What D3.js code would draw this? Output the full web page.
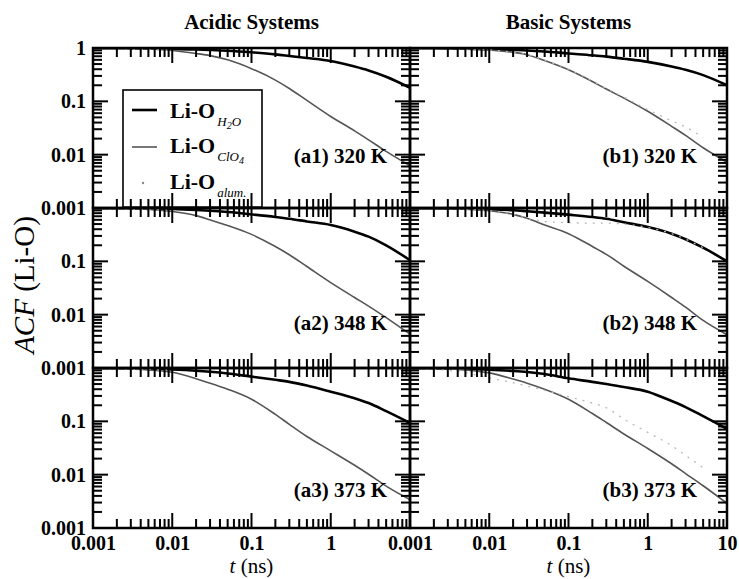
<!DOCTYPE html>
<html>
<head>
<meta charset="utf-8">
<script src="https://cdn.jsdelivr.net/npm/d3@7/dist/d3.min.js"></script>
<style>
  html, body { margin: 0; padding: 0; background: #fff; }
  svg { display: block; }
  text { font-family: "Liberation Serif", "Times New Roman", serif; }
</style>
</head>
<body>
<svg id="chart" width="739" height="579" xmlns="http://www.w3.org/2000/svg"></svg>
<script>
// Sampling times (ns) shared by every series
const T = [0.001, 0.002, 0.005, 0.01, 0.02, 0.03, 0.05, 0.1, 0.2, 0.3, 0.5, 1, 2, 3, 5, 10];

// Acidic systems
const a1_H2O  = [0.995, 0.99, 0.98, 0.96, 0.94, 0.92, 0.89, 0.83, 0.76, 0.71, 0.65, 0.57, 0.45, 0.38, 0.29, 0.18];
const a1_ClO4 = [1.0, 0.99, 0.96, 0.9, 0.79, 0.72, 0.6, 0.41, 0.25, 0.174, 0.104, 0.052, 0.028, 0.019, 0.0115, 0.0062];
const a1_alum = [0.99, 0.97, 0.94, 0.9, null, null, null, null, null, null, null, null, null, null, null, null];

const a2_H2O  = [0.995, 0.99, 0.98, 0.96, 0.92, 0.89, 0.84, 0.76, 0.68, 0.63, 0.56, 0.48, 0.36, 0.29, 0.2, 0.105];
const a2_ClO4 = [1.0, 0.99, 0.94, 0.86, 0.72, 0.6, 0.47, 0.32, 0.19, 0.133, 0.08, 0.04, 0.021, 0.0145, 0.0088, 0.0043];
const a2_alum = [0.99, 0.97, 0.94, 0.9, null, null, null, null, null, null, null, null, null, null, null, null];

const a3_H2O  = [0.995, 0.99, 0.97, 0.94, 0.89, 0.85, 0.79, 0.69, 0.6, 0.55, 0.47, 0.36, 0.27, 0.22, 0.155, 0.093];
const a3_ClO4 = [1.0, 0.98, 0.92, 0.83, 0.63, 0.52, 0.4, 0.26, 0.135, 0.088, 0.052, 0.028, 0.015, 0.0102, 0.0061, 0.0034];
const a3_alum = [0.99, 0.97, 0.94, 0.9, null, null, null, null, null, null, null, null, null, null, null, null];

// Basic systems
const b1_H2O  = [0.995, 0.99, 0.97, 0.95, 0.92, 0.9, 0.86, 0.79, 0.73, 0.69, 0.63, 0.55, 0.45, 0.39, 0.31, 0.2];
const b1_ClO4 = [1.0, 0.99, 0.96, 0.92, 0.83, 0.75, 0.58, 0.39, 0.235, 0.17, 0.115, 0.065, 0.034, 0.023, 0.0135, 0.0072];
const b1_alum = [1.0, 0.99, 0.96, 0.92, 0.83, 0.75, 0.59, 0.40, 0.24, 0.175, 0.12, 0.07, 0.043, 0.033, 0.021, null];

const b2_H2O  = [0.995, 0.99, 0.97, 0.95, 0.91, 0.87, 0.82, 0.75, 0.68, 0.63, 0.54, 0.44, 0.33, 0.26, 0.18, 0.1];
const b2_ClO4 = [1.0, 0.99, 0.95, 0.89, 0.76, 0.64, 0.48, 0.33, 0.19, 0.135, 0.081, 0.042, 0.021, 0.0138, 0.0078, 0.0042];
const b2_alum = [1.0, 0.99, 0.95, 0.89, 0.76, 0.64, 0.56, 0.53, 0.52, 0.52, 0.5, 0.43, 0.33, 0.26, 0.18, null];

const b3_H2O  = [0.995, 0.99, 0.96, 0.93, 0.88, 0.84, 0.77, 0.64, 0.55, 0.5, 0.44, 0.36, 0.24, 0.185, 0.125, 0.072];
const b3_ClO4 = [1.0, 0.98, 0.92, 0.81, 0.62, 0.52, 0.4, 0.26, 0.14, 0.095, 0.058, 0.031, 0.016, 0.0105, 0.0062, 0.0029];
const b3_alum = [1.0, 0.95, 0.82, 0.65, 0.53, 0.46, 0.38, 0.29, 0.22, 0.18, 0.11, 0.062, 0.035, 0.023, 0.0135, null];

// Axis ticks and labels
const xMajor = [0.001, 0.01, 0.1, 1, 10];
const yMajor = [0.001, 0.01, 0.1, 1];
const xLabelsLeft  = ["0.001", "0.01", "0.1", "1"];
const xLabelsRight = ["0.001", "0.01", "0.1", "1", "10"];
const yLabelsTop   = ["0.001", "0.01", "0.1", "1"];
const yLabelsLower = ["0.001", "0.01", "0.1"];
const columnTitles = ["Acidic Systems", "Basic Systems"];
const panelLabels  = ["(a1) 320 K", "(a2) 348 K", "(a3) 373 K", "(b1) 320 K", "(b2) 348 K", "(b3) 373 K"];

const panels = [
  { col: 0, row: 0, h2o: a1_H2O, clo4: a1_ClO4, alum: a1_alum, label: panelLabels[0] },
  { col: 0, row: 1, h2o: a2_H2O, clo4: a2_ClO4, alum: a2_alum, label: panelLabels[1] },
  { col: 0, row: 2, h2o: a3_H2O, clo4: a3_ClO4, alum: a3_alum, label: panelLabels[2] },
  { col: 1, row: 0, h2o: b1_H2O, clo4: b1_ClO4, alum: b1_alum, label: panelLabels[3] },
  { col: 1, row: 1, h2o: b2_H2O, clo4: b2_ClO4, alum: b2_alum, label: panelLabels[4] },
  { col: 1, row: 2, h2o: b3_H2O, clo4: b3_ClO4, alum: b3_alum, label: panelLabels[5] }
];

// Layout
const plotLeft = 93, plotTop = 48, pw = 317, ph = 160;
const MAJOR_TICK = 15, MINOR_TICK = 9;
const labelRight = [387, 697];
const labelBase = [163, 330, 497];

const svg = d3.select("#chart");
const tickSegs = [];

function minorTicks(lo, hi) {
  const out = [];
  for (let d = lo; d < hi * 0.999; d *= 10)
    for (let k = 2; k <= 9; k++) out.push(+(d * k).toPrecision(3));
  return out;
}
const xMinor = minorTicks(0.001, 10);
const yMinor = minorTicks(0.001, 1);

panels.forEach((p, i) => {
  const x0 = plotLeft + p.col * pw, y0 = plotTop + p.row * ph;
  const xe = x0 + pw, ye = y0 + ph;
  const x = d3.scaleLog().domain([0.001, 10]).range([x0, xe]);
  const y = d3.scaleLog().domain([0.001, 1]).range([ye, y0]);
  const g = svg.append("g");

  const clipId = "clip" + i;
  svg.append("clipPath").attr("id", clipId)
    .append("rect").attr("x", x0).attr("y", y0).attr("width", pw).attr("height", ph);

  // Inward tick segments on all four sides
  const xt = xMinor.map(v => [v, MINOR_TICK]).concat(xMajor.map(v => [v, MAJOR_TICK]));
  const yt = yMinor.map(v => [v, MINOR_TICK]).concat(yMajor.map(v => [v, MAJOR_TICK]));
  xt.forEach(([v, len]) => {
    const px = x(v);
    tickSegs.push([px, ye, px, ye - len]);
    tickSegs.push([px, y0, px, y0 + len]);
  });
  yt.forEach(([v, len]) => {
    const py = y(v);
    tickSegs.push([x0, py, x0 + len, py]);
    tickSegs.push([xe, py, xe - len, py]);
  });

  // Tick labels
  if (p.row === 2) {
    const labs = p.col === 0 ? xLabelsLeft : xLabelsRight;
    g.append("g").attr("transform", `translate(0,${ye})`)
      .call(d3.axisBottom(x).tickValues(xMajor.slice(0, labs.length))
        .tickSize(0).tickPadding(8).tickFormat((d, k) => labs[k]))
      .call(a => { a.select(".domain").remove(); })
      .selectAll("text")
      .attr("font-family", "Liberation Serif, serif")
      .attr("font-size", 20).attr("font-weight", "bold").attr("fill", "#000");
  }
  if (p.col === 0) {
    const labs = p.row === 0 ? yLabelsTop : yLabelsLower;
    g.append("g").attr("transform", `translate(${x0},0)`)
      .call(d3.axisLeft(y).tickValues(yMajor.slice(0, labs.length))
        .tickSize(0).tickPadding(7).tickFormat((d, k) => labs[k]))
      .call(a => { a.select(".domain").remove(); })
      .selectAll("text")
      .attr("font-family", "Liberation Serif, serif")
      .attr("font-size", 20).attr("font-weight", "bold").attr("fill", "#000");
  }

  // Curves
  const line = d3.line()
    .defined(d => d[1] != null)
    .x(d => x(d[0])).y(d => y(d[1]))
    .curve(d3.curveMonotoneX);
  const pts = arr => T.map((t, k) => [t, arr[k]]);
  const curves = g.append("g").attr("clip-path", `url(#${clipId})`);
  curves.append("path").attr("d", line(pts(p.h2o)))
    .attr("fill", "none").attr("stroke", "#000").attr("stroke-width", 2.6);
  curves.append("path").attr("d", line(pts(p.clo4)))
    .attr("fill", "none").attr("stroke", "#555").attr("stroke-width", 1.6);
  curves.append("path").attr("d", line(pts(p.alum)))
    .attr("fill", "none").attr("stroke", "#b8b8b8").attr("stroke-width", 1.3)
    .attr("stroke-dasharray", "2 6");

  // Frame
  g.append("rect").attr("x", x0).attr("y", y0).attr("width", pw).attr("height", ph)
    .attr("fill", "none").attr("stroke", "#000").attr("stroke-width", 2.5);

  // Panel label
  g.append("text").attr("x", labelRight[p.col]).attr("y", labelBase[p.row])
    .attr("text-anchor", "end").attr("font-size", 21).attr("font-weight", "bold")
    .text(p.label);
});

// Column titles
columnTitles.forEach((t, c) => {
  svg.append("text").attr("x", plotLeft + pw * c + pw / 2).attr("y", 29)
    .attr("text-anchor", "middle").attr("font-size", 21).attr("font-weight", "bold")
    .text(t);
});

// x-axis titles
[0, 1].forEach(c => {
  const tx = svg.append("text").attr("x", plotLeft + pw * c + pw / 2).attr("y", 573)
    .attr("text-anchor", "middle").attr("font-size", 21);
  tx.append("tspan").attr("font-style", "italic").text("t");
  tx.append("tspan").text(" (ns)");
});

// y-axis title
const ytitle = svg.append("text")
  .attr("transform", "translate(34,285) rotate(-90)")
  .attr("text-anchor", "middle").attr("font-size", 29);
ytitle.append("tspan").attr("font-style", "italic").text("ACF");
ytitle.append("tspan").text(" (Li-O)");

// Legend
const legend = svg.append("g");
legend.append("rect").attr("x", 123).attr("y", 90).attr("width", 139).attr("height", 117)
  .attr("fill", "#fff").attr("stroke", "#000").attr("stroke-width", 1.6);
legend.append("line").attr("x1", 132).attr("x2", 157).attr("y1", 110).attr("y2", 110)
  .attr("stroke", "#000").attr("stroke-width", 2.6);
legend.append("line").attr("x1", 132).attr("x2", 157).attr("y1", 147).attr("y2", 147)
  .attr("stroke", "#555").attr("stroke-width", 1.6);
legend.append("circle").attr("cx", 143).attr("cy", 183).attr("r", 1.2).attr("fill", "#888");

const legendRows = [
  { base: 118, sub: ["H", "2", "O"] },
  { base: 153, sub: ["ClO", "4", ""] },
  { base: 189, sub: ["alum.", "", ""] }
];
legendRows.forEach(r => {
  const t = legend.append("text").attr("x", 170).attr("y", r.base)
    .attr("font-size", 22).attr("font-weight", "bold");
  t.append("tspan").text("Li-O");
  t.append("tspan").attr("dx", 2).attr("dy", 8)
    .attr("font-size", 13).attr("font-style", "italic").attr("font-weight", "normal")
    .text(r.sub[0]);
  if (r.sub[1]) {
    t.append("tspan").attr("dy", 3).attr("font-size", 10).attr("font-style", "italic")
      .attr("font-weight", "normal").text(r.sub[1]);
    if (r.sub[2]) t.append("tspan").attr("dy", -3).attr("font-size", 13)
      .attr("font-style", "italic").attr("font-weight", "normal").text(r.sub[2]);
  }
});

// Tick marks, drawn last on their own layer
svg.append("g").attr("class", "tick-marks")
  .attr("stroke", "#000").attr("stroke-width", 2)
  .selectAll("line").data(tickSegs).join("line")
  .attr("x1", s => s[0]).attr("y1", s => s[1])
  .attr("x2", s => s[2]).attr("y2", s => s[3]);
</script>
</body>
</html>
